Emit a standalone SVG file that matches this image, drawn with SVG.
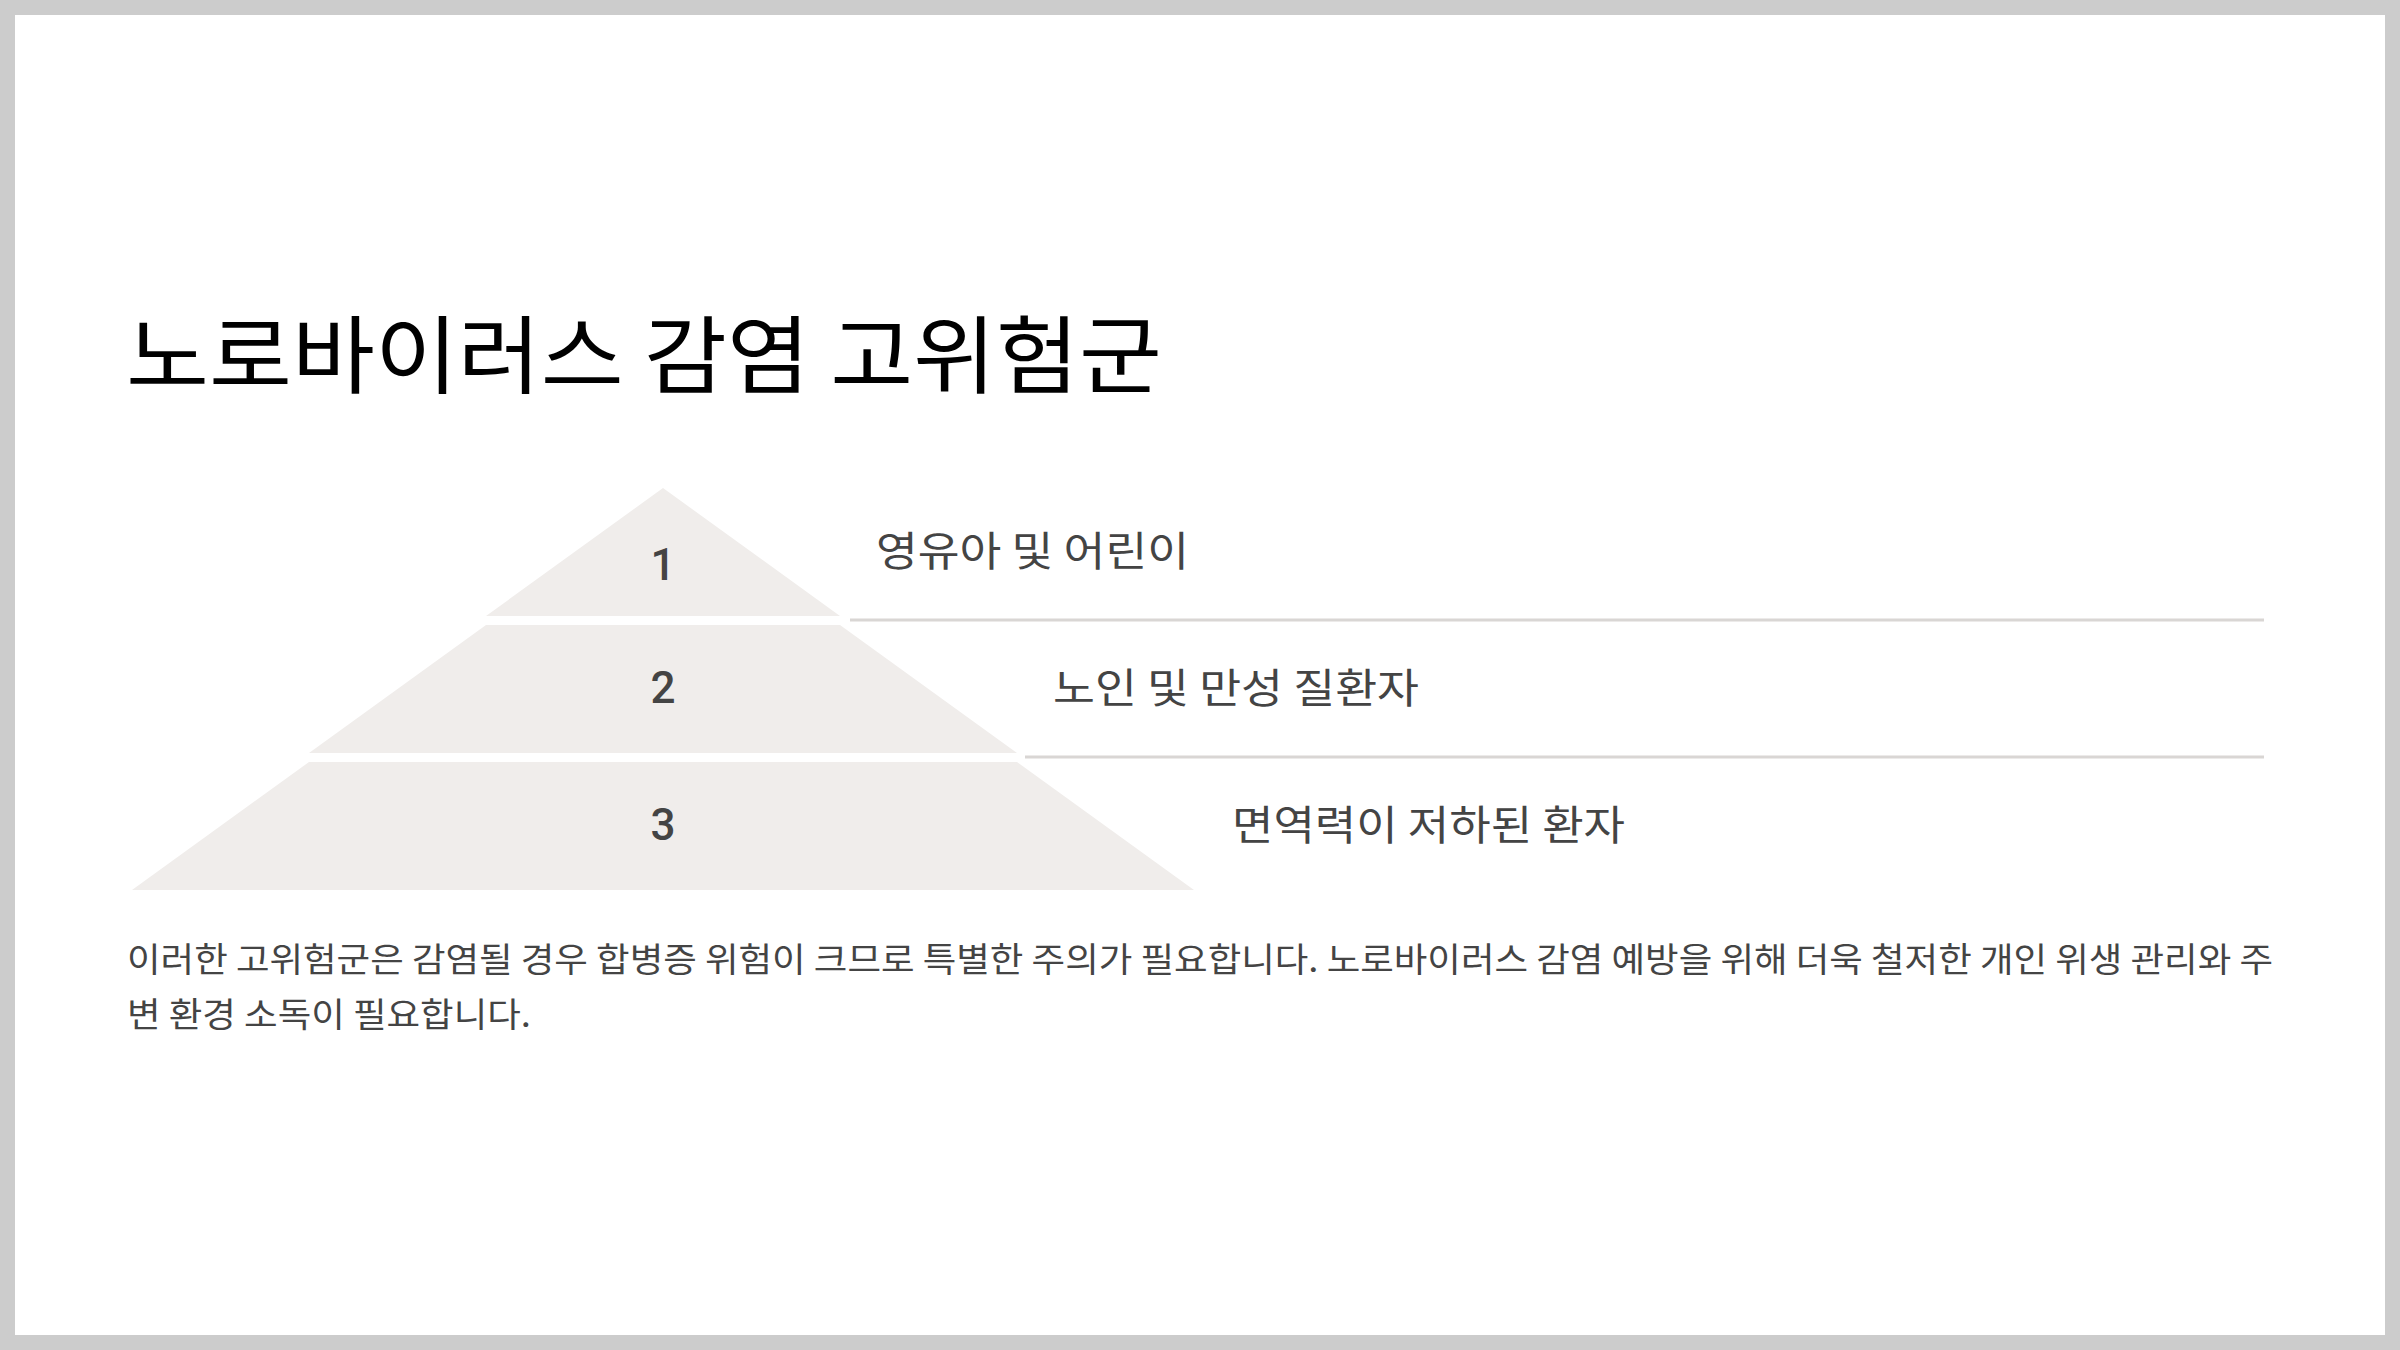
<svg xmlns="http://www.w3.org/2000/svg" width="2400" height="1350" viewBox="0 0 2400 1350">
  <style>
    .kr { font-family: "Noto Sans CJK KR", "Noto Sans", sans-serif; }
    .title { font-size: 85px; fill: #000000; }
    .num { font-family: "Roboto", "Noto Sans", sans-serif; font-weight: 500; font-size: 44px; fill: #444444; text-anchor: middle; }
    .label { font-size: 41px; fill: #444444; }
    .body { font-size: 34px; fill: #444444; }
    .layer { fill: #f0edeb; }
    .rule { stroke: #d9d6d4; stroke-width: 3; fill: none; }
  </style>
  <rect x="0" y="0" width="2400" height="1350" fill="#cccccc"/>
  <rect x="15" y="15" width="2370" height="1320" fill="#ffffff"/>

  <text id="title" class="kr title" x="126" y="387" textLength="1036" lengthAdjust="spacingAndGlyphs">노로바이러스 감염 고위험군</text>

  <g id="connectors">
    <line class="rule" x1="850" y1="620" x2="2264" y2="620"/>
    <line class="rule" x1="1025" y1="757" x2="2264" y2="757"/>
  </g>

  <g id="layer1">
    <polygon class="layer" points="663,488 840,616 486,616"/>
    <text class="num" x="663" y="580">1</text>
    <text class="kr label" x="876" y="566" textLength="313" lengthAdjust="spacingAndGlyphs">영유아 및 어린이</text>
  </g>
  <g id="layer2">
    <polygon class="layer" points="486,625 840,625 1017,753 309,753"/>
    <text class="num" x="663" y="703">2</text>
    <text class="kr label" x="1053" y="703" textLength="366" lengthAdjust="spacingAndGlyphs">노인 및 만성 질환자</text>
  </g>
  <g id="layer3">
    <polygon class="layer" points="309,762 1017,762 1194,890 132,890"/>
    <text class="num" x="663" y="840">3</text>
    <text class="kr label" x="1232" y="840" textLength="393" lengthAdjust="spacingAndGlyphs">면역력이 저하된 환자</text>
  </g>

  <g id="body">
    <text class="kr body" x="127" y="972" textLength="2146" lengthAdjust="spacingAndGlyphs">이러한 고위험군은 감염될 경우 합병증 위험이 크므로 특별한 주의가 필요합니다. 노로바이러스 감염 예방을 위해 더욱 철저한 개인 위생 관리와 주</text>
    <text class="kr body" x="127" y="1027" textLength="404" lengthAdjust="spacingAndGlyphs">변 환경 소독이 필요합니다.</text>
  </g>
</svg>
